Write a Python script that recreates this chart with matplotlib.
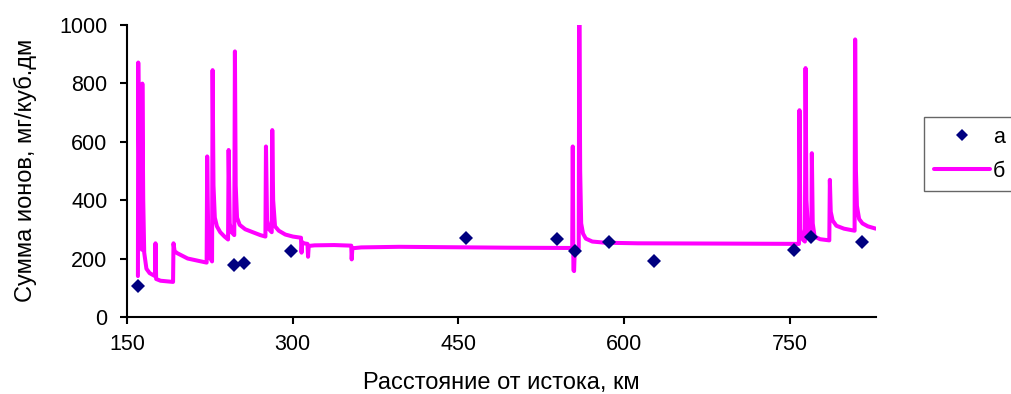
import matplotlib as mpl
import matplotlib.pyplot as plt

mpl.rcParams["font.family"] = ["Liberation Sans", "DejaVu Sans"]
mpl.rcParams["axes.linewidth"] = 1.5

# Measured points (а)
point_km = [160.0, 247.1, 256.2, 298.7, 456.5, 539.6, 555.6, 585.9, 626.9, 753.6, 768.7, 815.2]
point_ions = [107, 178, 186, 227, 271, 267, 226, 257, 191, 229, 275, 257]

# Calculated profile (б), vertices
line_km = [
    159.9, 160.2, 161.2, 162.2, 163.5, 163.9, 164.7, 165.6, 167.6, 170.5,
    175.3, 175.8, 176.4, 180.4, 191.7, 192.1, 193.1, 195.6, 204.9, 214.7,
    222.1, 222.6, 223.6, 225.5, 227.0, 227.5, 228.3, 229.5, 231.4, 234.4,
    238.3, 241.5, 242.0, 243.0, 244.7, 247.1, 247.7, 248.4, 249.6, 252.0,
    257.0, 263.8, 270.7, 275.3, 275.8, 276.8, 278.6, 281.0, 281.5, 282.3,
    284.0, 287.4, 293.3, 300.2, 307.5, 308.0, 308.6, 310.0, 313.4, 313.9,
    314.5, 319.8, 337.5, 353.0, 353.4, 354.0, 362.0, 396.4, 494.6, 553.0,
    553.5, 554.1, 554.7, 555.3, 558.9, 559.4, 560.2, 561.1, 562.8, 565.3,
    571.2, 582.9, 612.4, 691.0, 758.2, 758.7, 759.5, 761.7, 763.6, 764.2,
    765.0, 766.6, 769.5, 769.9, 770.7, 772.4, 777.4, 785.7, 786.2, 787.0,
    788.7, 792.1, 799.0, 808.6, 809.1, 809.8, 810.7, 812.7, 815.7, 820.6,
    827.8,
]
line_ions = [
    140, 870, 420, 260, 230, 798, 400, 220, 165, 150,
    140, 252, 130, 124, 120, 252, 225, 218, 200, 192,
    186, 549, 260, 200, 190, 844, 450, 340, 310, 290,
    275, 265, 571, 320, 290, 280, 908, 450, 340, 315,
    300, 290, 280, 275, 583, 330, 300, 290, 639, 400,
    310, 295, 282, 275, 271, 220, 256, 252, 250, 206,
    243, 245, 246, 244, 197, 235, 238, 240, 237, 236,
    583, 160, 157, 230, 235, 1080, 500, 320, 285, 268,
    258, 254, 252, 251, 250, 707, 300, 265, 258, 851,
    400, 290, 270, 560, 320, 275, 266, 262, 469, 360,
    330, 312, 302, 295, 949, 500, 380, 335, 320, 310,
    302,
]

fig = plt.figure(figsize=(10.11, 3.94), dpi=100)
ax = fig.add_axes([0.1256, 0.1954, 0.7409, 0.7424])

ax.plot(line_km, line_ions, color="#FF00FF", lw=2.9, solid_joinstyle="round",
        solid_capstyle="round", label="б", zorder=2)
ax.plot(point_km, point_ions, linestyle="none", marker="D", ms=7.6,
        color="#000080", markeredgewidth=0, label="а", zorder=3)

ax.set(xlim=(150, 828), ylim=(0, 1000),
       xticks=[150, 300, 450, 600, 750],
       yticks=[0, 200, 400, 600, 800, 1000])
ax.spines["top"].set_visible(False)
ax.spines["right"].set_visible(False)
ax.tick_params(direction="out", length=5, width=1.5, labelsize=15.5)
ax.tick_params(axis="x", pad=7)
ax.tick_params(axis="y", pad=9)

ax.set_xlabel("Расстояние от истока, км", fontsize=17, va="center")
ax.set_ylabel("Сумма ионов, мг/куб.дм", fontsize=17, va="center")
ax.xaxis.set_label_coords(0.5, -0.225)
ax.yaxis.set_label_coords(-0.136, 0.5)

handles, labels = ax.get_legend_handles_labels()
leg = fig.legend(handles[::-1], labels[::-1], loc="upper left",
                 bbox_to_anchor=(924 / 1011, 1 - 117 / 394),
                 borderaxespad=0, frameon=True, fancybox=False,
                 fontsize=15.5, handlelength=2.6, borderpad=0.45,
                 labelspacing=0.6, handletextpad=0.15, markerscale=0.8)
leg.get_frame().set_edgecolor("#404040")
leg.get_frame().set_linewidth(1.0)

fig.savefig("out.png", dpi=100)
